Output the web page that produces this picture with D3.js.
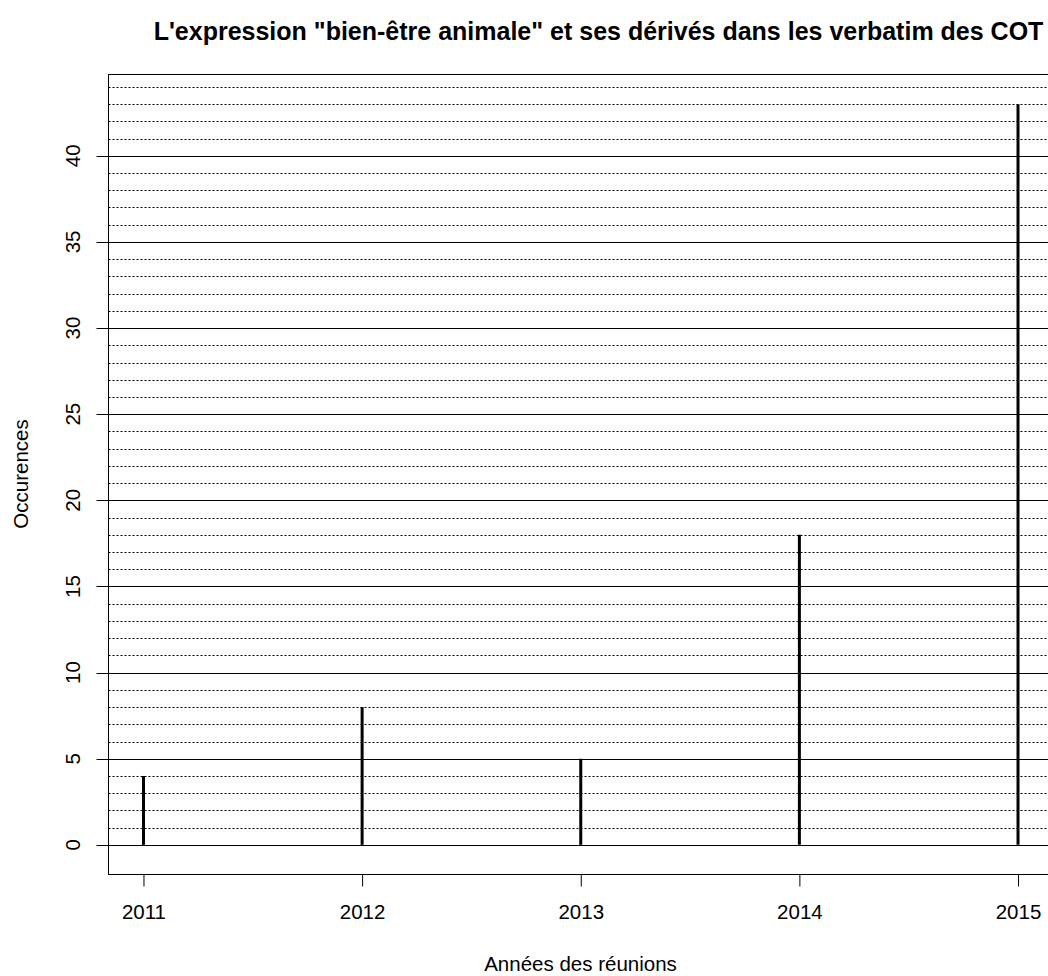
<!DOCTYPE html>
<html><head><meta charset="utf-8">
<script src="https://cdn.jsdelivr.net/npm/d3@7"></script>
<style>body{margin:0;background:#fff}svg{display:block}text{font-family:"Liberation Sans",Arial,sans-serif}</style>
</head><body>
<script>
const years = [2011, 2012, 2013, 2014, 2015];
const occurrences = [4, 8, 5, 18, 43];
const yTicks = [0, 5, 10, 15, 20, 25, 30, 35, 40];
const minorLines = d3.range(1, 45).filter(v => v % 5 !== 0);
const title = "L'expression \"bien-être animale\" et ses dérivés dans les verbatim des COT";
const xTitle = "Années des réunions";
const yTitle = "Occurences";

const W = 1048, H = 976;
const FS = 20.5;
const svg = d3.select("body").append("svg").attr("width", W).attr("height", H);
const box = {l: 108.5, r: 1053, t: 74.5, b: 874.5};
const x = d3.scaleLinear().domain([2011 - 0.16, 2015 + 0.16]).range([box.l, box.r]);
const y = d3.scaleLinear().domain([-1.72, 44.72]).range([box.b, box.t]);

// dotted minor lines
svg.append("g").selectAll("line").data(minorLines).join("line")
  .attr("x1", box.l).attr("x2", W)
  .attr("y1", d => Math.round(y(d)) + 0.5).attr("y2", d => Math.round(y(d)) + 0.5)
  .attr("stroke", "#000").attr("stroke-width", 1).attr("stroke-dasharray", "2,2");
// solid major lines (incl. tick)
svg.append("g").selectAll("line").data(yTicks).join("line")
  .attr("x1", box.l - 12).attr("x2", W)
  .attr("y1", d => Math.round(y(d)) + 0.5).attr("y2", d => Math.round(y(d)) + 0.5)
  .attr("stroke", "#000").attr("stroke-width", 1);

// box
svg.append("rect").attr("x", box.l).attr("y", box.t).attr("width", box.r - box.l).attr("height", box.b - box.t)
  .attr("fill", "none").attr("stroke", "#000").attr("stroke-width", 1);

// y tick labels
svg.append("g").selectAll("text").data(yTicks).join("text")
  .attr("transform", d => `translate(80,${y(d)}) rotate(-90)`)
  .attr("text-anchor", "middle").attr("font-size", FS).text(d => d);

// x axis
const xAxis = d3.axisBottom(x).tickValues(years).tickFormat(d3.format("d")).tickSize(12).tickPadding(18);
const gx = svg.append("g").attr("transform", `translate(0,${box.b})`).call(xAxis);
gx.select(".domain").remove();
gx.selectAll("text").attr("font-size", FS).attr("font-family", '"Liberation Sans",Arial,sans-serif').attr("fill", "#000");

// bars (type h)
svg.append("g").selectAll("line").data(years).join("line")
  .attr("x1", d => x(d)).attr("x2", d => x(d))
  .attr("y1", y(0)).attr("y2", (d, i) => y(occurrences[i]))
  .attr("stroke", "#000").attr("stroke-width", 3);

// titles
svg.append("text").attr("x", 598.5).attr("y", 40).attr("text-anchor", "middle")
  .attr("font-size", 25).attr("font-weight", "bold").text(title);
svg.append("text").attr("x", 580.5).attr("y", 971).attr("text-anchor", "middle")
  .attr("font-size", FS).text(xTitle);
svg.append("text").attr("transform", `translate(28,474) rotate(-90)`).attr("text-anchor", "middle")
  .attr("font-size", FS).text(yTitle);
</script>
</body></html>
